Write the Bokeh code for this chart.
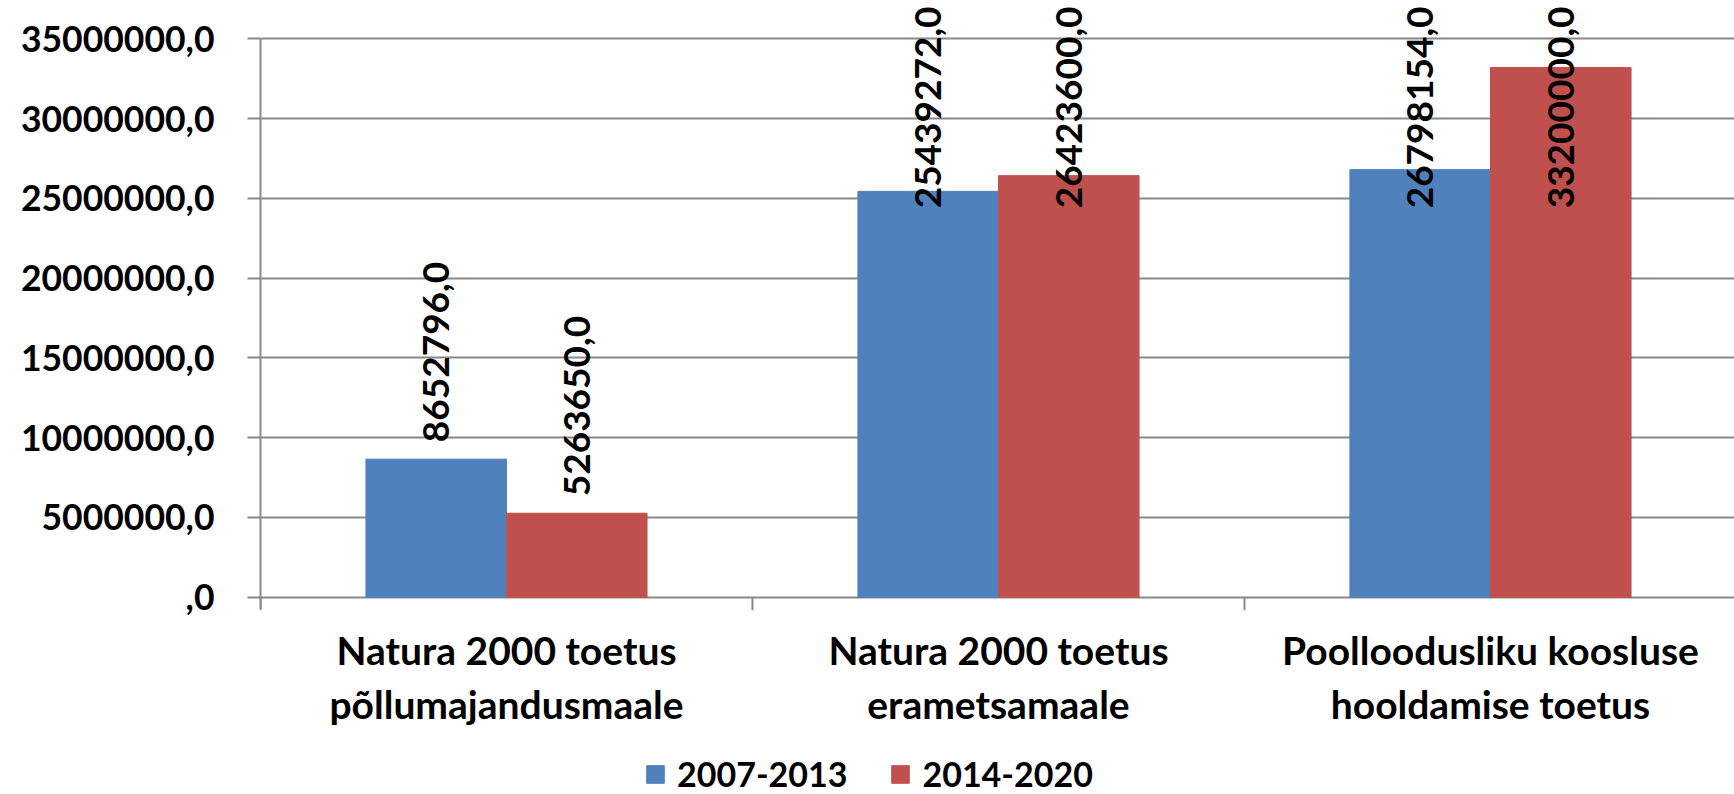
import math
from bokeh.plotting import figure
from bokeh.models import ColumnDataSource, FixedTicker, Range1d, Legend, LegendItem
from bokeh.core.properties import value
from bokeh.embed import file_html
from bokeh.resources import INLINE

# ---- data ----
categories = ["Natura 2000 toetus\npõllumajandusmaale",
              "Natura 2000 toetus\nerametsamaale",
              "Poolloodusliku koosluse\nhooldamise toetus"]
series_names = ["2007-2013", "2014-2020"]
values_2007_2013 = [8652796, 25439272, 26798154]
values_2014_2020 = [5263650, 26423600, 33200000]
y_ticks = [0, 5000000, 10000000, 15000000, 20000000, 25000000, 30000000, 35000000]
y_tick_labels = [",0", "5000000,0", "10000000,0", "15000000,0", "20000000,0",
                 "25000000,0", "30000000,0", "35000000,0"]
colors = ["#4F81BD", "#C0504D"]

FONT = "Lato"
BAR_W = 0.2857
W, H = 1734, 794
PX_PER_UNIT = 15.954 / 1e6          # vertical scale, px per value unit
Y_END = y_ticks[-1] + 38.3 / PX_PER_UNIT
Y_START = -(H - 596.7) / PX_PER_UNIT
LABEL_FITS_BELOW = 20e6   # taller bars get their labels pinned to the top
GRAY = "#888888"

p = figure(width=W, height=H, output_backend="svg", toolbar_location=None,
           x_range=Range1d(0, 2.996), y_range=Range1d(Y_START, Y_END),
           min_border_left=260, min_border_right=0, min_border_top=0,
           min_border_bottom=0)
p.outline_line_color = None
p.xaxis.visible = False

# bars
renderers = []
series_vals = [values_2007_2013, values_2014_2020]
for k, (vals, col) in enumerate(zip(series_vals, colors)):
    xs = [i + 0.5 + (k - 0.5) * BAR_W for i in range(len(categories))]
    src = ColumnDataSource(dict(x=xs, top=vals))
    r = p.vbar(x="x", top="top", width=BAR_W, bottom=0, source=src,
               fill_color=col, line_color=col, line_width=1)
    renderers.append(r)

    lab = [f"{v:.1f}".replace(".", ",") for v in vals]
    low = [(x, v, t) for x, v, t in zip(xs, vals, lab) if v <= LABEL_FITS_BELOW]
    hi = [(x, v, t) for x, v, t in zip(xs, vals, lab) if v > LABEL_FITS_BELOW]
    if low:
        p.text(x=[a[0] for a in low], y=[a[1] for a in low], text=[a[2] for a in low],
               angle=math.pi / 2, text_align="left", text_baseline="middle", y_offset=-17,
               text_font=value(FONT), text_font_style="bold",
               text_font_size="37px", text_color="black")
    if hi:
        p.text(x=[a[0] for a in hi], y=[Y_END] * len(hi), text=[a[2] for a in hi],
               angle=math.pi / 2, text_align="right", text_baseline="middle", y_offset=6,
               text_font=value(FONT), text_font_style="bold",
               text_font_size="37px", text_color="black")

# y axis
yax = p.yaxis[0]
yax.ticker = FixedTicker(ticks=y_ticks, minor_ticks=[])
yax.major_label_overrides = {t: l for t, l in zip(y_ticks, y_tick_labels)}
yax.bounds = (-12 / PX_PER_UNIT, y_ticks[-1])
yax.axis_line_color = GRAY
yax.axis_line_width = 2
yax.major_tick_line_color = GRAY
yax.major_tick_line_width = 2
yax.major_tick_out = 13
yax.major_tick_in = 0
yax.major_label_standoff = 33
yax.major_label_text_font = FONT
yax.major_label_text_font_style = "bold"
yax.major_label_text_font_size = "35.5px"
yax.major_label_text_color = "black"

p.ygrid.ticker = FixedTicker(ticks=y_ticks)
p.ygrid.grid_line_color = GRAY
p.ygrid.grid_line_width = 2
p.xgrid.visible = False

# category boundary ticks and category labels (x axis drawn inside frame)
bounds = list(range(len(categories) + 1))
p.segment(x0=bounds, y0=[0] * len(bounds), x1=bounds,
          y1=[-13 / PX_PER_UNIT] * len(bounds), line_color=GRAY, line_width=2)
centers = [i + 0.5 for i in range(len(categories))]
p.text(x=centers, y=[0] * len(centers), text=categories, y_offset=30,
       text_align="center", text_baseline="top", text_line_height=1.17,
       text_font=value(FONT), text_font_style="bold",
       text_font_size="39px", text_color="black")

legend = Legend(items=[LegendItem(label=n, renderers=[r]) for n, r in zip(series_names, renderers)],
                orientation="horizontal", location=(384, 0),
                glyph_width=22, glyph_height=22, label_standoff=11, spacing=42,
                label_height=22,
                label_text_font=FONT, label_text_font_style="bold",
                label_text_font_size="34px", label_text_color="black",
                border_line_color=None, background_fill_alpha=0,
                padding=0, margin=0)
p.add_layout(legend, "center")

open("out.html", "w").write(file_html(p, INLINE))
